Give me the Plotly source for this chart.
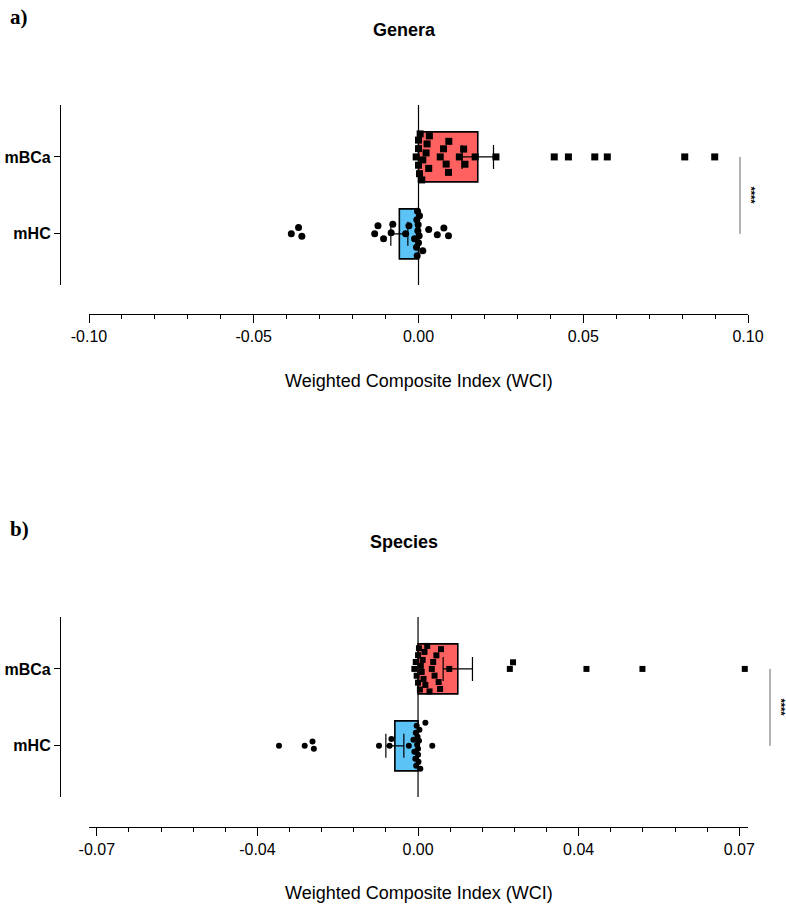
import numpy as np
import plotly.graph_objects as go

W, H = 786, 906

# ---------------- data ----------------
categories = ["mHC", "mBCa"]

genera_mbca = [0.0, 0.0026, -0.0007, 0.0031, 0.0092, 0.0137, 0.0005, 0.0066, 0.0084,
               0.0141, 0.0172, 0.0, 0.0023, 0.0076, 0.0124, 0.0010, 0.0091, 0.0,
               0.0013, 0.0033, 0.0003, 0.0235, 0.0412, 0.0455, 0.0535, 0.0573,
               0.0808, 0.0899]
genera_mhc = [-0.0386, -0.0364, -0.0354, -0.0133, -0.0123, -0.0106, -0.0083, -0.0078,
              -0.0039, -0.0029, -0.0012, -0.0006, -0.0005, -0.0004, -0.0003, -0.0002,
              -0.0001, 0.0, 0.0002, 0.0003, 0.0013, 0.0031, 0.0057, 0.0077, 0.0091]

species_mbca = [-0.0008, -0.0005, -0.0003, 0.0, 0.0, 0.0002, 0.0004, 0.0006, 0.0008,
                0.0010, 0.0012, 0.0014, 0.0016, 0.0020, 0.0025, 0.0030, 0.0033,
                0.0036, 0.0040, 0.0045, 0.0048, 0.0050, 0.0068, 0.0200, 0.0207,
                0.0367, 0.0489, 0.0712]
species_mhc = [-0.0303, -0.0247, -0.0230, -0.0227, -0.0085, -0.0062, -0.0058, -0.0020,
               -0.0010, -0.0008, -0.0006, -0.0005, -0.0004, -0.0003, -0.0002, -0.0001,
               0.0, 0.0, 0.0001, 0.0002, 0.0003, 0.0005, 0.0016, 0.0031]

genera_ticks = [-0.10, -0.05, 0.0, 0.05, 0.10]
genera_ticklabels = ["-0.10", "-0.05", "0.00", "0.05", "0.10"]
species_ticks = [-0.07, -0.035, 0.0, 0.035, 0.07]
species_ticklabels = ["-0.07", "-0.04", "0.00", "0.04", "0.07"]

panel_titles = ["Genera", "Species"]
panel_letters = ["a)", "b)"]
axis_title = "Weighted Composite Index (WCI)"
significance = "****"

# ---------------- style / layout ----------------
RED = "#FF6161"
BLUE = "#5CC3F6"
SANS = "Arial, 'Liberation Sans', Helvetica, sans-serif"
SERIF = "'Times New Roman', 'Liberation Serif', serif"

X0_PX, X1_PX = 89, 748
YAX_PX = 60
YRANGE = [-0.665, 1.675]

panels = [
    dict(top=105, bottom=285, axis_y=313.5, xrange=[-0.1, 0.1], ticks=genera_ticks,
         labels=genera_ticklabels, minor=0.01, mbca=genera_mbca, mhc=genera_mhc,
         letter_y=17, title_y=30, xtitle_y=381, brk_x=740, star_x=751, msize=7,
         ax=11.0, ay=8.5),
    dict(top=617, bottom=797, axis_y=826.5, xrange=[-0.0717, 0.0719], ticks=species_ticks,
         labels=species_ticklabels, minor=0.007, mbca=species_mbca, mhc=species_mhc,
         letter_y=529, title_y=542, xtitle_y=893, brk_x=770, star_x=781, msize=6,
         ax=10.0, ay=7.0),
]


def swarm(vals, xscale, yscale, ax, ay, maxoff):
    """Beeswarm with an elliptical exclusion zone; returns vertical offsets (data units)."""
    vals = np.asarray(vals, dtype=float)
    order = np.argsort(vals)
    placed = []
    offs = np.zeros(len(vals))

    def ok(xp, c):
        return all(((xp - px) / ax) ** 2 + ((c - py) / ay) ** 2 >= 1 - 1e-6 for px, py in placed)

    for i in order:
        xp = vals[i] * xscale
        cands = [0.0]
        for px, py in placed:
            dx = xp - px
            if abs(dx) < ax:
                dy = ay * np.sqrt(1 - (dx / ax) ** 2)
                cands += [py + dy, py - dy]
        cands.sort(key=lambda c: (abs(c), -c))
        chosen = None
        for c in cands:
            if abs(c) <= maxoff and ok(xp, c):
                chosen = c
                break
        if chosen is None:
            grid = np.arange(-maxoff, maxoff + 0.01, 1.0)
            best, bestd = 0.0, -1
            for c in grid:
                d = min(((xp - px) / ax) ** 2 + ((c - py) / ay) ** 2 for px, py in placed)
                if d > bestd:
                    best, bestd = c, d
            chosen = best
        placed.append((xp, chosen))
        offs[i] = chosen / yscale
    return offs


fig = go.Figure()
annotations = []
shapes = []
layout_axes = {}

for k, p in enumerate(panels):
    xa = "x" if k == 0 else "x2"
    ya = "y" if k == 0 else "y2"
    xkey = "xaxis" if k == 0 else "xaxis2"
    ykey = "yaxis" if k == 0 else "yaxis2"

    xscale = (X1_PX - X0_PX) / (p["xrange"][1] - p["xrange"][0])
    yscale = (p["bottom"] - p["top"]) / (YRANGE[1] - YRANGE[0])

    groups = [np.array(p["mhc"]), np.array(p["mbca"])]
    means = [g.mean() for g in groups]
    sems = [g.std(ddof=1) / np.sqrt(len(g)) for g in groups]

    fig.add_trace(go.Bar(
        x=means, y=[0, 1], orientation="h", width=0.65,
        marker=dict(color=[BLUE, RED], line=dict(color="black", width=1.6)),
        error_x=dict(type="data", array=sems, color="black", thickness=1.2, width=12),
        xaxis=xa, yaxis=ya, hoverinfo="skip"))

    for ci, (g, sym) in enumerate(zip(groups, ["circle", "square"])):
        offs = swarm(g, xscale, yscale, p["ax"], p["ay"], 23)
        fig.add_trace(go.Scatter(
            x=g, y=ci + offs, mode="markers",
            marker=dict(symbol=sym, size=p["msize"], color="black", line=dict(width=0)),
            xaxis=xa, yaxis=ya, cliponaxis=False, hoverinfo="skip"))

    layout_axes[xkey] = dict(
        domain=[X0_PX / W, X1_PX / W], range=p["xrange"], anchor="free",
        position=1 - p["axis_y"] / H,
        showline=True, linecolor="black", linewidth=1.2,
        ticks="outside", ticklen=8, tickwidth=1.2, tickcolor="black",
        tickmode="array", tickvals=p["ticks"], ticktext=p["labels"],
        tickfont=dict(family=SANS, size=16, color="black"),
        minor=dict(ticks="outside", ticklen=4, tickwidth=1.2, tickcolor="black",
                   tickmode="linear", tick0=0, dtick=p["minor"], showgrid=False),
        showgrid=False, zeroline=False, automargin=False, fixedrange=True)
    layout_axes[ykey] = dict(
        domain=[1 - p["bottom"] / H, 1 - p["top"] / H], range=YRANGE, anchor="free",
        position=YAX_PX / W,
        showline=True, linecolor="black", linewidth=1.2,
        ticks="outside", ticklen=6, tickwidth=1.2, tickcolor="black",
        tickmode="array", tickvals=[0, 1], ticktext=categories,
        tickfont=dict(family=SANS, size=16, color="black", weight="bold"),
        showgrid=False, zeroline=False, automargin=False, fixedrange=True)

    # zero line across the plot height
    shapes.append(dict(type="line", xref=xa, yref=f"{ya} domain", x0=0, x1=0, y0=0, y1=1,
                       line=dict(color="black", width=1.2), layer="below"))
    # significance bracket
    shapes.append(dict(type="line", xref="paper", yref=ya, x0=p["brk_x"] / W, x1=p["brk_x"] / W,
                       y0=0, y1=1, line=dict(color="#555555", width=0.9)))
    annotations.append(dict(text=significance, xref="paper", yref=ya, x=p["star_x"] / W, y=0.5,
                            textangle=90, showarrow=False, xanchor="center", yanchor="middle",
                            font=dict(family=SANS, size=11, color="black", weight="bold")))

    annotations.append(dict(text=panel_letters[k], xref="paper", yref="paper", x=8 / W,
                            y=1 - p["letter_y"] / H, xanchor="left", yanchor="middle",
                            showarrow=False,
                            font=dict(family=SERIF, size=21, color="black", weight="bold")))
    annotations.append(dict(text=panel_titles[k], xref="paper", yref="paper", x=404 / W,
                            y=1 - p["title_y"] / H, xanchor="center", yanchor="middle",
                            showarrow=False,
                            font=dict(family=SANS, size=18, color="black", weight="bold")))
    annotations.append(dict(text=axis_title, xref="paper", yref="paper", x=419 / W,
                            y=1 - p["xtitle_y"] / H, xanchor="center", yanchor="middle",
                            showarrow=False, font=dict(family=SANS, size=18, color="black")))

fig.update_layout(
    width=W, height=H, margin=dict(l=0, r=0, t=0, b=0, pad=0),
    plot_bgcolor="white", paper_bgcolor="white", showlegend=False,
    font=dict(family=SANS, color="black"),
    annotations=annotations, shapes=shapes, barmode="overlay",
    **layout_axes)

fig.write_html("out.html")
